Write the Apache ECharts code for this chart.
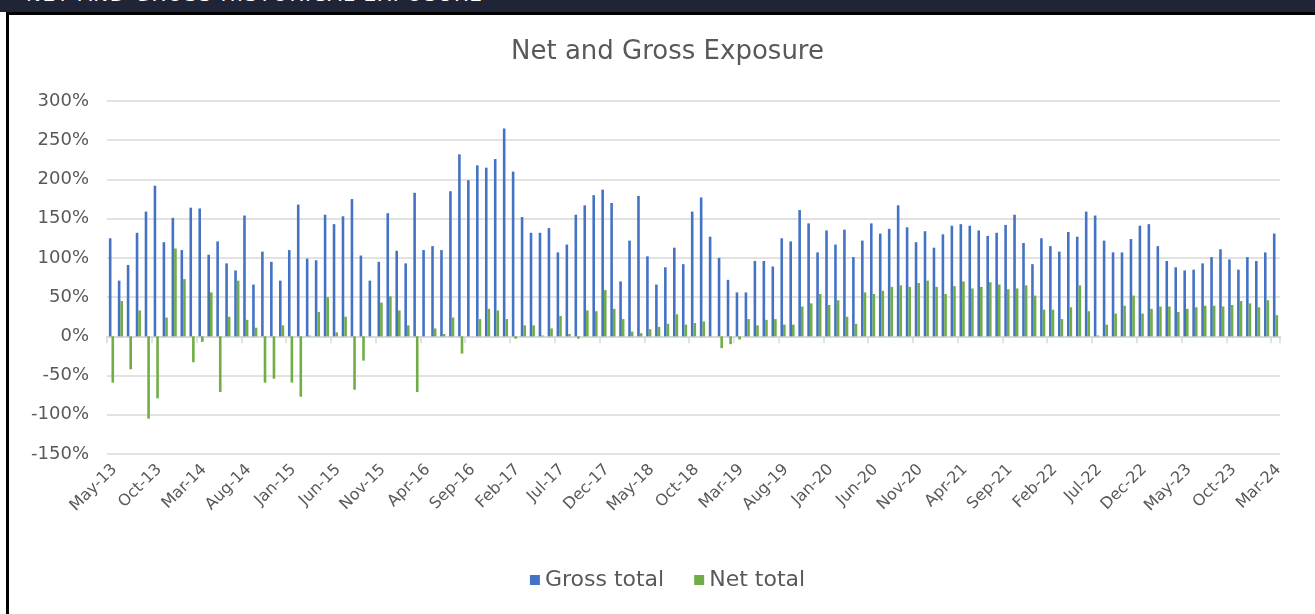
<!DOCTYPE html>
<html>
<head>
<meta charset="utf-8">
<script src="https://cdn.jsdelivr.net/npm/echarts@6/dist/echarts.min.js"></script>
<style>
  html, body { margin: 0; padding: 0; background: #ffffff; overflow: hidden; }
  #header { position: absolute; left: 0; top: 0; width: 1315px; height: 12px; background: #1f2536; overflow: hidden; }
  #header span { position: absolute; left: 26px; top: -18.5px; color: #ffffff; font-family: "DejaVu Sans", sans-serif; font-size: 20px; letter-spacing: 1.5px; white-space: nowrap; }
  #box { position: absolute; left: 6px; top: 12px; width: 1330px; height: 620px; border: 3px solid #000000; box-sizing: border-box; background: #ffffff; }
  #chart { position: absolute; left: 0; top: 0; width: 1335px; height: 614px; }
</style>
</head>
<body>
<div id="header"><span>NET AND GROSS HISTORICAL EXPOSURE</span></div>
<div id="box"></div>
<div id="chart"></div>
<script>
const categories = [
  'May-13','Jun-13','Jul-13','Aug-13','Sep-13','Oct-13','Nov-13','Dec-13',
  'Jan-14','Feb-14','Mar-14','Apr-14','May-14','Jun-14','Jul-14','Aug-14','Sep-14','Oct-14','Nov-14','Dec-14',
  'Jan-15','Feb-15','Mar-15','Apr-15','May-15','Jun-15','Jul-15','Aug-15','Sep-15','Oct-15','Nov-15','Dec-15',
  'Jan-16','Feb-16','Mar-16','Apr-16','May-16','Jun-16','Jul-16','Aug-16','Sep-16','Oct-16','Nov-16','Dec-16',
  'Jan-17','Feb-17','Mar-17','Apr-17','May-17','Jun-17','Jul-17','Aug-17','Sep-17','Oct-17','Nov-17','Dec-17',
  'Jan-18','Feb-18','Mar-18','Apr-18','May-18','Jun-18','Jul-18','Aug-18','Sep-18','Oct-18','Nov-18','Dec-18',
  'Jan-19','Feb-19','Mar-19','Apr-19','May-19','Jun-19','Jul-19','Aug-19','Sep-19','Oct-19','Nov-19','Dec-19',
  'Jan-20','Feb-20','Mar-20','Apr-20','May-20','Jun-20','Jul-20','Aug-20','Sep-20','Oct-20','Nov-20','Dec-20',
  'Jan-21','Feb-21','Mar-21','Apr-21','May-21','Jun-21','Jul-21','Aug-21','Sep-21','Oct-21','Nov-21','Dec-21',
  'Jan-22','Feb-22','Mar-22','Apr-22','May-22','Jun-22','Jul-22','Aug-22','Sep-22','Oct-22','Nov-22','Dec-22',
  'Jan-23','Feb-23','Mar-23','Apr-23','May-23','Jun-23','Jul-23','Aug-23','Sep-23','Oct-23','Nov-23','Dec-23',
  'Jan-24','Feb-24','Mar-24'
];

const grossTotal = [
  125, 71, 91,132,159,192,120,151,110,164,163,104,121, 93, 84,154, 66,108, 95, 71,
  110,168, 99, 97,155,143,153,175,103, 71, 95,157,109, 93,183,110,115,110,185,232,
  199,218,215,226,265,210,152,132,132,138,107,117,155,167,180,187,170, 70,122,179,
  102, 66, 88,113, 92,159,177,127,100, 72, 56, 56, 96, 96, 89,125,121,161,144,107,
  135,117,136,101,122,144,131,137,167,139,120,134,113,130,141,143,141,135,128,132,
  142,155,119, 92,125,115,108,133,127,159,154,122,107,107,124,141,143,115, 96, 88,
   84, 85, 93,101,111, 98, 85,101, 96,107,131
];

const netTotal = [
  -59, 45,-42, 33,-105,-79, 24,112, 73,-33, -7, 56,-71, 25, 71, 21, 11,-59,-54, 14,
  -59,-77,  1, 31, 50,  5, 25,-68,-31,  0, 43, 51, 33, 14,-71,  0, 10,  3, 24,-22,
    0, 22, 35, 33, 22, -3, 14, 14,  1, 10, 26,  3, -3, 33, 32, 59, 35, 22,  6,  4,
    9, 12, 16, 28, 15, 17, 19,  0,-15,-10, -4, 22, 14, 21, 22, 15, 15, 38, 42, 54,
   40, 46, 25, 16, 56, 54, 58, 63, 65, 63, 68, 71, 63, 54, 64, 70, 61, 63, 69, 66,
   60, 61, 65, 52, 34, 34, 22, 37, 65, 32,  1, 15, 29, 39, 52, 29, 35, 38, 38, 31,
   35, 37, 39, 39, 38, 40, 45, 42, 37, 46, 27
];

const yTicks = { min: -150, max: 300, step: 50 };

const chart = echarts.init(document.getElementById('chart'), null, { renderer: 'canvas' });
const textColor = '#595959';
const gridColor = '#d9d9d9';
const font = '"DejaVu Sans", sans-serif';

chart.setOption({
  backgroundColor: 'transparent',
  animation: false,
  title: {
    text: 'Net and Gross Exposure',
    left: 'center',
    top: 34,
    textStyle: { color: textColor, fontSize: 26, fontWeight: 'normal', fontFamily: font }
  },
  legend: {
    bottom: 18,
    left: 'center',
    icon: 'rect',
    itemWidth: 10,
    itemHeight: 10,
    itemGap: 30,
    textStyle: { color: textColor, fontSize: 22, fontFamily: font },
    data: ['Gross total', 'Net total']
  },
  grid: [
    { left: 107, right: 55, top: 101, bottom: 160, containLabel: false },
    { left: 110, right: 52, top: 101, bottom: 160, containLabel: false }
  ],
  xAxis: [
    {
      type: 'category',
      gridIndex: 0,
      data: categories,
      position: 'bottom',
      axisLine: { show: true, onZero: true, lineStyle: { color: gridColor, width: 2 } },
      axisTick: { show: true, interval: 4, alignWithLabel: false, length: 7, lineStyle: { color: gridColor, width: 1.5 } },
      axisLabel: { show: false }
    },
    {
      type: 'category',
      gridIndex: 1,
      data: categories,
      position: 'bottom',
      axisLine: { show: false, onZero: false },
      axisTick: { show: false },
      axisLabel: {
        interval: 4,
        rotate: 45,
        margin: 13,
        color: textColor,
        fontSize: 16,
        fontFamily: font
      }
    }
  ],
  yAxis: [
    {
      type: 'value',
      gridIndex: 0,
      min: yTicks.min,
      max: yTicks.max,
      interval: yTicks.step,
      axisLine: { show: false },
      axisTick: { show: false },
      splitLine: { lineStyle: { color: gridColor, width: 1.5 } },
      axisLabel: {
        formatter: '{value}%',
        color: textColor,
        fontSize: 18,
        fontFamily: font,
        margin: 18
      }
    },
    {
      type: 'value',
      gridIndex: 1,
      min: yTicks.min,
      max: yTicks.max,
      interval: yTicks.step,
      show: false,
      splitLine: { show: false }
    }
  ],
  series: [
    {
      name: 'Gross total',
      type: 'bar',
      xAxisIndex: 0,
      yAxisIndex: 0,
      data: grossTotal,
      barWidth: 2.6,
      barGap: '0%',
      itemStyle: { color: '#4472c4' }
    },
    {
      name: 'Net total',
      type: 'bar',
      xAxisIndex: 0,
      yAxisIndex: 0,
      data: netTotal,
      barWidth: 2.6,
      barGap: '0%',
      itemStyle: { color: '#70ad47' }
    }
  ]
});
</script>
</body>
</html>
